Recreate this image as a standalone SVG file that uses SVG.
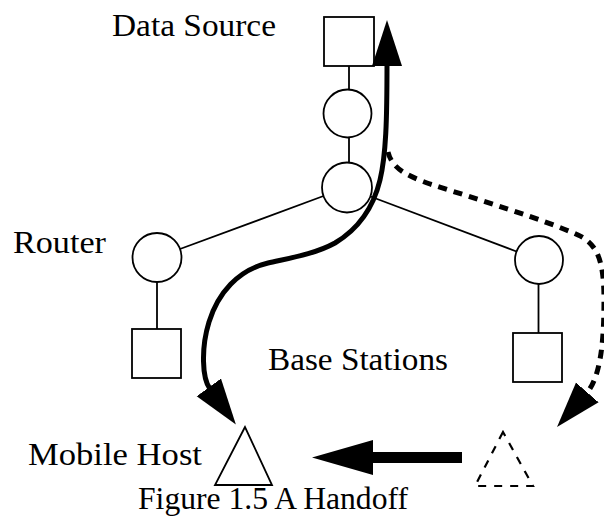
<svg xmlns="http://www.w3.org/2000/svg" width="604" height="525" viewBox="0 0 604 525">
  <style>
    .node { fill: #fff; stroke: #000; stroke-width: 1.8; }
    .link { stroke: #000; stroke-width: 1.8; fill: none; }
    .label { font-family: "Liberation Serif", "DejaVu Serif", serif; font-size: 31px; fill: #000; }
    .flow { stroke: #000; stroke-width: 5; fill: none; }
    .flow-dashed { stroke: #000; stroke-width: 5; fill: none; stroke-dasharray: 9 7; }
  </style>
  <defs>
    <marker id="head" markerUnits="userSpaceOnUse" markerWidth="50" markerHeight="34" viewBox="0 -17 50 34" refX="2" refY="0" orient="auto-start-reverse">
      <path d="M0,-15 L46,0 L0,15 Z" fill="#000"/>
    </marker>
  </defs>

  <rect width="604" height="525" fill="#fff"/>

  <!-- wired links between nodes -->
  <g id="connectors">
    <line class="link" x1="349" y1="66" x2="349" y2="90"/>
    <line class="link" x1="349" y1="137" x2="349" y2="163"/>
    <line class="link" x1="323.5" y1="196" x2="180" y2="249"/>
    <line class="link" x1="370.5" y1="196.5" x2="516.5" y2="251.5"/>
    <line class="link" x1="157" y1="282" x2="157" y2="329"/>
    <line class="link" x1="538.5" y1="284" x2="538.5" y2="333"/>
  </g>

  <g id="data-source">
    <rect class="node" x="324" y="17" width="50" height="49"/>
    <text class="label" x="112" y="36" textLength="164" lengthAdjust="spacingAndGlyphs">Data Source</text>
  </g>
  <g id="router-top">
    <circle class="node" cx="347.5" cy="113.5" r="24"/>
  </g>
  <g id="router-hub">
    <circle class="node" cx="347" cy="187.5" r="25"/>
  </g>
  <g id="router-left">
    <circle class="node" cx="157" cy="257.5" r="24.5"/>
    <text class="label" x="13" y="253" textLength="93" lengthAdjust="spacingAndGlyphs">Router</text>
  </g>
  <g id="router-right">
    <circle class="node" cx="539" cy="260" r="24"/>
  </g>
  <g id="base-station-left">
    <rect class="node" x="132" y="329" width="49" height="49"/>
  </g>
  <g id="base-station-right">
    <rect class="node" x="513" y="333" width="49" height="49"/>
  </g>
  <g id="base-stations-label">
    <text class="label" x="268" y="370" textLength="180" lengthAdjust="spacingAndGlyphs">Base Stations</text>
  </g>
  <g id="mobile-host">
    <polygon class="node" points="245,427 215,485 272,485"/>
    <text class="label" x="28" y="465" textLength="174" lengthAdjust="spacingAndGlyphs">Mobile Host</text>
  </g>
  <g id="mobile-host-previous">
    <polygon points="503,432 475,486 533,486" fill="none" stroke="#000" stroke-width="2.2" stroke-dasharray="8 8"/>
  </g>

  <!-- data flow and handoff arrows -->
  <g id="flows">
    <path class="flow" marker-start="url(#head)" marker-end="url(#head)"
          d="M210,389 C202,378 201,348 209,322 C218,293 238,270 268,263 C290,258 315,254 335,243 C360,228 374,205 380,180 C386,155 387,120 387,64"/>
    <path class="flow-dashed" marker-end="url(#head)"
          d="M388,152 C392,168 405,175 430,184 C480,200 545,220 578,235 C598,244 604,262 604,300 C604,345 600,378 586,394"/>
    <path d="M462,452 L373,452 L373,440 L312,457.5 L373,475 L373,463 L462,463 Z" fill="#000"/>
  </g>

  <text class="label" x="138" y="509" textLength="270" lengthAdjust="spacingAndGlyphs">Figure 1.5 A Handoff</text>
</svg>
